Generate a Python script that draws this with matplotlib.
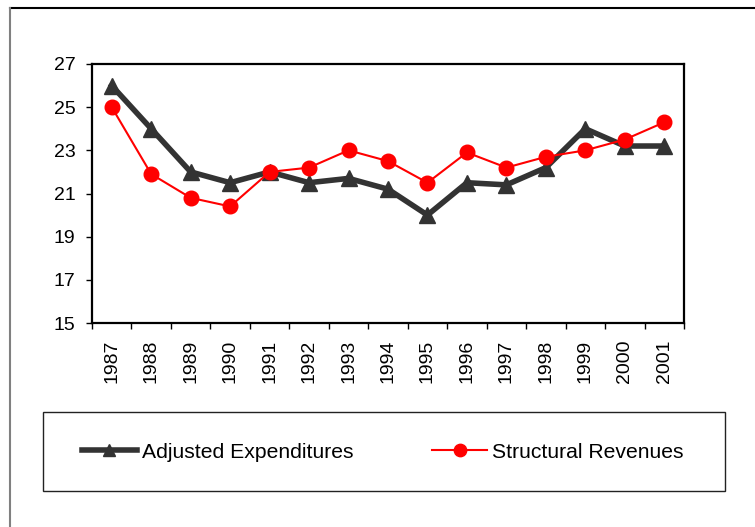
import matplotlib.pyplot as plt
from matplotlib.lines import Line2D
from matplotlib.patches import Rectangle

plt.rcParams["font.family"] = ["Liberation Sans", "DejaVu Sans"]

YEARS = ["1987", "1988", "1989", "1990", "1991", "1992", "1993", "1994",
         "1995", "1996", "1997", "1998", "1999", "2000", "2001"]
EXPENDITURES = [26.0, 24.0, 22.0, 21.5, 22.0, 21.5, 21.7, 21.2,
                20.0, 21.5, 21.4, 22.2, 24.0, 23.2, 23.2]
REVENUES = [25.0, 21.9, 20.8, 20.4, 22.0, 22.2, 23.0, 22.5,
            21.5, 22.9, 22.2, 22.7, 23.0, 23.5, 24.3]

W, H = 755, 527


def plot():
    fig = plt.figure(figsize=(W / 100, H / 100), dpi=100)
    ax = fig.add_axes([92 / W, 1 - 323 / H, 592 / W, 259 / H])

    x = list(range(len(YEARS)))
    ax.plot(x, EXPENDITURES, "^-", color="#333333", lw=4, ms=11,
            label="Adjusted Expenditures", zorder=3)
    ax.plot(x, REVENUES, "o-", color="#ff0000", lw=1.5, ms=10.5,
            label="Structural Revenues", zorder=4)

    ax.set_xlim(-0.5, len(YEARS) - 0.5)
    ax.set_ylim(15, 27)
    ax.set_yticks(range(15, 28, 2))
    ax.set_xticks(x)
    ax.set_xticklabels(YEARS, rotation=90)
    ax.set_xticks([i - 0.5 for i in range(len(YEARS) + 1)], minor=True)
    ax.tick_params(axis="x", which="major", length=0, pad=12, labelsize=14)
    ax.tick_params(axis="x", which="minor", length=4.5, width=1, direction="out")
    ax.tick_params(axis="y", length=4.5, width=1, direction="out", labelsize=14, pad=7.5)
    for s in ax.spines.values():
        s.set_linewidth(1.6)
        s.set_color("black")

    # legend box
    fig.add_artist(Rectangle((43 / W, 1 - 491 / H), 682 / W, 79 / H,
                             transform=fig.transFigure, fill=False,
                             edgecolor="#222222", lw=1))
    fig.legend(loc="center left", bbox_to_anchor=(82 / W, 1 - 452 / H),
               ncol=2, frameon=False, fontsize=15.2, numpoints=1,
               borderpad=0, borderaxespad=0, markerscale=0.85,
               handlelength=2.6, handletextpad=0.22, columnspacing=3.75)

    # outer frame
    fig.add_artist(Line2D([10 / W, 1], [1 - 8 / H, 1 - 8 / H],
                          transform=fig.transFigure, color="black", lw=1.5))
    fig.add_artist(Line2D([10 / W, 10 / W], [0, 1 - 8 / H],
                          transform=fig.transFigure, color="#808080", lw=1.5))

    fig.savefig("out.png")


plot()
